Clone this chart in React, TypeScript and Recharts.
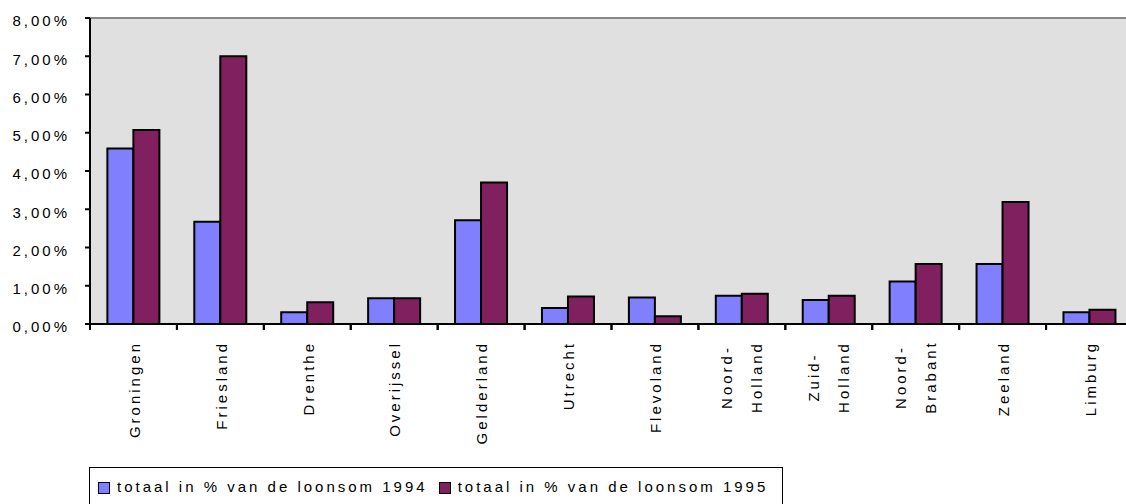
import { Bar, BarChart, CartesianGrid, ReferenceLine, XAxis, YAxis } from "recharts";

const provinces = [
  "Groningen",
  "Friesland",
  "Drenthe",
  "Overijssel",
  "Gelderland",
  "Utrecht",
  "Flevoland",
  "Noord-Holland",
  "Zuid-Holland",
  "Noord-Brabant",
  "Zeeland",
  "Limburg",
];
const total1994 = [4.59, 2.67, 0.31, 0.67, 2.71, 0.42, 0.69, 0.74, 0.63, 1.11, 1.57, 0.31];
const total1995 = [5.07, 7.0, 0.57, 0.67, 3.7, 0.72, 0.2, 0.79, 0.74, 1.57, 3.19, 0.37];
const yTicks = [0, 1, 2, 3, 4, 5, 6, 7, 8];
const seriesNames = ["totaal in % van de loonsom 1994", "totaal in % van de loonsom 1995"];

const BLUE = "#8080ff";
const PLUM = "#80205f";
const FONT = '"Liberation Sans", Arial, sans-serif';

const data = provinces.map((name, i) => ({
  name,
  y1994: total1994[i],
  y1995: total1995[i],
}));

const pct = (v: number) => v.toFixed(2).replace(".", ",") + "%";

// y tick: x arrives as axis x - tickSize - tickMargin (90 - 5 - 0)
function YTick({ x, y, payload }: any) {
  return (
    <text
      x={x - 15}
      y={y + 3}
      dy="0.35em"
      textAnchor="end"
      fontFamily={FONT}
      fontSize={15}
      letterSpacing={3}
      fill="#000"
    >
      {pct(payload.value)}
    </text>
  );
}

// excel style: tick marks sit between categories, labels rotated
function XTick({ x, y, payload }: any) {
  const half = payload.offset ?? 43.5;
  const lines: string[] = String(payload.value).split(/(?<=-)/);
  return (
    <g>
      <line x1={x - half} x2={x - half} y1={y - 1} y2={y + 6} stroke="#000" strokeWidth={2} />
      <line x1={x + half} x2={x + half} y1={y - 1} y2={y + 6} stroke="#000" strokeWidth={2} />
      {lines.length === 1 ? (
        <text
          transform={`translate(${x + 1},${y + 17}) rotate(-90)`}
          textAnchor="end"
          dy="0.35em"
          fontFamily={FONT}
          fontSize={15}
          letterSpacing={3}
          fill="#000"
        >
          {lines[0]}
        </text>
      ) : (
        lines.map((ln, i) => (
          <text
            key={ln}
            transform={`translate(${x + (i === 0 ? -15 : 15)},${y + 53}) rotate(-90)`}
            textAnchor="middle"
            dy="0.35em"
            fontFamily={FONT}
            fontSize={15}
            letterSpacing={3}
            fill="#000"
          >
            {ln}
          </text>
        ))
      )}
    </g>
  );
}

export default function App() {
  return (
    <div style={{ position: "relative", width: 1126, height: 504, overflow: "hidden", background: "#fff" }}>
      <style>{`body{margin:0}`}</style>
      <BarChart
        width={1133}
        height={504}
        data={data}
        margin={{ top: 18, right: 0, bottom: 0, left: 0 }}
        barCategoryGap="20%"
        barGap={0}
      >
        <CartesianGrid fill="#e0e0e0" horizontal={false} vertical={false} />
        <XAxis
          dataKey="name"
          height={180}
          interval={0}
          tickLine={false}
          tickSize={0}
          tickMargin={0}
          axisLine={{ stroke: "#000", strokeWidth: 2 }}
          tick={<XTick />}
        />
        <YAxis
          width={90}
          domain={[0, 8]}
          ticks={yTicks}
          tickSize={5}
          tickMargin={0}
          tickLine={{ stroke: "#000", strokeWidth: 2 }}
          axisLine={{ stroke: "#000", strokeWidth: 2 }}
          tick={<YTick />}
        />
        <ReferenceLine y={8} stroke="#888" strokeWidth={2} />
        <Bar dataKey="y1994" name={seriesNames[0]} fill={BLUE} stroke="#000" strokeWidth={2} isAnimationActive={false} />
        <Bar dataKey="y1995" name={seriesNames[1]} fill={PLUM} stroke="#000" strokeWidth={2} isAnimationActive={false} />
      </BarChart>
      <div
        style={{
          position: "absolute",
          left: 89,
          top: 467,
          width: 694,
          height: 45,
          border: "1px solid #000",
          boxSizing: "border-box",
          display: "flex",
          alignItems: "flex-start",
          paddingLeft: 8,
          paddingTop: 10,
          fontFamily: FONT,
          fontSize: 15,
          lineHeight: "17px",
          letterSpacing: 3,
          color: "#000",
        }}
      >
        {seriesNames.map((s, i) => (
          <span key={s} style={{ display: "flex", alignItems: "center", marginRight: 11 }}>
            <span
              style={{
                display: "inline-block",
                width: 10,
                height: 10,
                background: i === 0 ? BLUE : PLUM,
                border: "1.5px solid #000",
                marginRight: 7,
                marginTop: 2,
              }}
            />
            {s}
          </span>
        ))}
      </div>
    </div>
  );
}
